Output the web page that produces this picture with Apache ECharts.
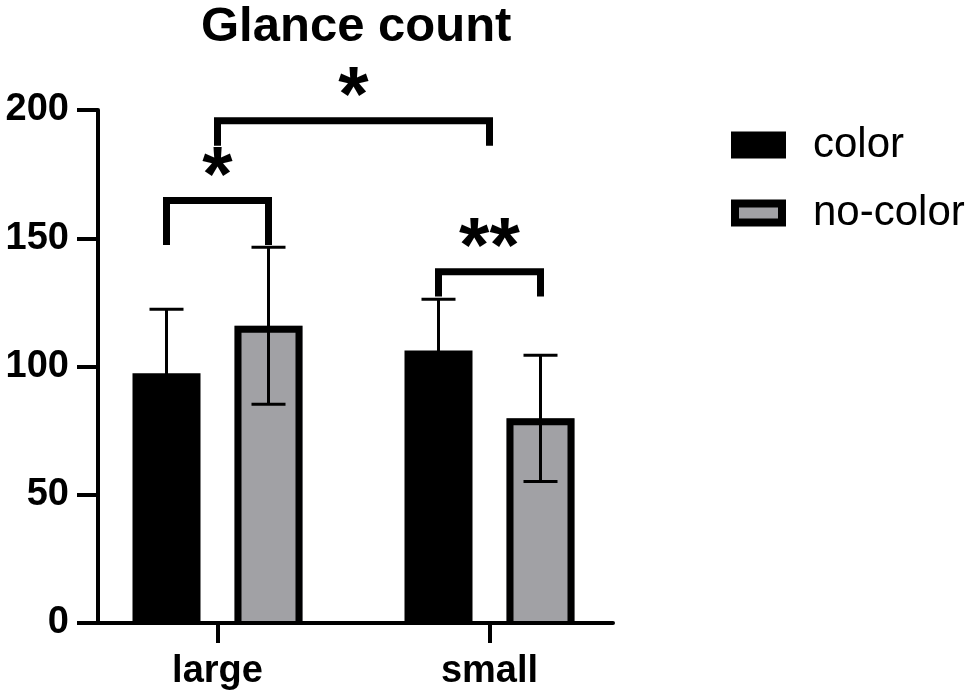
<!DOCTYPE html>
<html>
<head>
<meta charset="utf-8">
<script src="https://cdn.jsdelivr.net/npm/echarts@6/dist/echarts.min.js"></script>
<style>
  html, body { margin: 0; padding: 0; background: #fff; }
  #chart { width: 975px; height: 695px; }
</style>
</head>
<body>
<div id="chart"></div>
<script>
// ---------------- data ----------------
const categories = ['large', 'small'];
const catPos = [1, 2];
const seriesNames = ['color', 'no-color'];
const colorMean = [97.4, 106.2];
const colorErr = [24.9, 20.0];
const noColorMean = [115.9, 79.8];
const noColorErr = [30.6, 24.6];
const yTicks = [0, 50, 100, 150, 200];

// significance annotations: [categoryIndex, slot] (slot -1 = color bar, +1 = no-color bar, 0 = category centre)
const sigFrom = [[0, -1], [0, 0], [1, -1]];
const sigTo = [[0, 1], [1, 0], [1, 1]];
const sigTop = [164.7, 195.8, 136.9];
const sigLegEnd = [147.4, 186.1, 127.3];
const sigLabels = ['*', '*', '**'];

// ---------------- layout/styling constants ----------------
const BAR_OFFSET = 0.1875;   // bar centre offset from category centre (category units)
const BAR_WIDTH = 0.25;      // bar width (category units)
const GREY = '#a1a1a5';
const FONT = '"Liberation Sans", Arial, Helvetica, sans-serif';
const STAR_SPACING = 30.5;

function barSeries(name, means, errs, slot, hollow) {
  return {
    name: name,
    type: 'custom',
    itemStyle: hollow ? { color: GREY, borderColor: '#000', borderWidth: 8 } : { color: '#000' },
    data: categories.map((c, i) => [catPos[i], means[i], errs[i]]),
    renderItem: function (params, api) {
      const pos = api.value(0), v = api.value(1), e = api.value(2);
      const unit = api.size([1, 0])[0];
      const base = api.coord([pos, 0]);
      const cx = base[0] + slot * BAR_OFFSET * unit;
      const y0 = base[1];
      const yTop = api.coord([pos, v])[1];
      const w = BAR_WIDTH * unit;
      const x0 = cx - w / 2, x1 = cx + w / 2;
      const eTop = api.coord([pos, v + e])[1];
      const eBot = api.coord([pos, v - e])[1];
      const children = [];
      if (hollow) {
        children.push({ type: 'rect', shape: { x: x0, y: yTop, width: w, height: y0 - 2 - yTop }, style: { fill: GREY } });
        children.push({ type: 'polyline', shape: { points: [[x0 + 3.5, y0], [x0 + 3.5, yTop + 3.5], [x1 - 3.5, yTop + 3.5], [x1 - 3.5, y0]] },
          style: { stroke: '#000', lineWidth: 7, fill: null, lineJoin: 'miter' } });
      } else {
        children.push({ type: 'rect', shape: { x: x0, y: yTop, width: w, height: y0 - yTop }, style: { fill: '#000' } });
      }
      const cap = 17;
      children.push({ type: 'line', shape: { x1: cx, y1: eTop, x2: cx, y2: eBot }, style: { stroke: '#000', lineWidth: 3 } });
      children.push({ type: 'line', shape: { x1: cx - cap, y1: eTop, x2: cx + cap, y2: eTop }, style: { stroke: '#000', lineWidth: 3 } });
      children.push({ type: 'line', shape: { x1: cx - cap, y1: eBot, x2: cx + cap, y2: eBot }, style: { stroke: '#000', lineWidth: 3 } });
      return { type: 'group', children: children };
    }
  };
}

const sigData = sigLabels.map((l, i) => [
  catPos[sigFrom[i][0]], sigFrom[i][1], catPos[sigTo[i][0]], sigTo[i][1], sigTop[i], sigLegEnd[i], i
]);

const option = {
  animation: false,
  backgroundColor: '#fff',
  title: {
    text: 'Glance count',
    left: 201, top: 3, padding: 0,
    textStyle: { fontFamily: FONT, fontSize: 49, fontWeight: 'bold', color: '#000' }
  },
  legend: {
    orient: 'vertical',
    left: 731, top: 124, padding: 0,
    itemWidth: 47, itemHeight: 19, itemGap: 26,
    icon: 'rect',
    selectedMode: false,
    textStyle: { fontFamily: FONT, fontSize: 42, color: '#000', padding: [0, 0, 0, 26] },
    data: [
      { name: 'color', itemStyle: { color: '#000', borderColor: '#000', borderWidth: 8 } },
      { name: 'no-color', itemStyle: { color: GREY, borderColor: '#000', borderWidth: 8 } }
    ]
  },
  grid: { left: 98, right: 362, top: 110, bottom: 72, containLabel: false },
  xAxis: {
    type: 'value',
    min: 1 - 119.5 / 272,
    max: 2 + 123.5 / 272,
    splitLine: { show: false },
    axisLine: { show: true, lineStyle: { color: '#000', width: 4 } },
    axisTick: { show: true, customValues: catPos, length: 20, inside: false, lineStyle: { color: '#000', width: 4 } },
    axisLabel: {
      show: true, customValues: catPos, margin: 30,
      fontFamily: FONT, fontSize: 38, fontWeight: 'bold', color: '#000',
      formatter: function (v) { const i = catPos.indexOf(v); return i >= 0 ? categories[i] : ''; }
    }
  },
  yAxis: {
    type: 'value',
    min: yTicks[0], max: yTicks[yTicks.length - 1], interval: 50,
    splitLine: { show: false },
    axisLine: { show: true, lineStyle: { color: '#000', width: 4 } },
    axisTick: { show: true, length: 21, inside: false, lineStyle: { color: '#000', width: 4 } },
    axisLabel: { margin: 29, fontFamily: FONT, fontSize: 38, fontWeight: 'bold', color: '#000' }
  },
  series: [
    barSeries(seriesNames[0], colorMean, colorErr, -1, false),
    barSeries(seriesNames[1], noColorMean, noColorErr, 1, true),
    {
      name: 'significance',
      type: 'custom',
      data: sigData,
      renderItem: function (params, api) {
        const unit = api.size([1, 0])[0];
        const xa = api.coord([api.value(0), 0])[0] + api.value(1) * BAR_OFFSET * unit;
        const xb = api.coord([api.value(2), 0])[0] + api.value(3) * BAR_OFFSET * unit;
        const yt = api.coord([api.value(0), api.value(4)])[1];
        const yl = api.coord([api.value(0), api.value(5)])[1];
        const label = sigLabels[api.value(6)];
        const children = [
          { type: 'polyline', shape: { points: [[xa, yl], [xa, yt], [xb, yt], [xb, yl]] },
            style: { stroke: '#000', lineWidth: 7, fill: null, lineJoin: 'miter' } }
        ];
        const chars = label.split('');
        chars.forEach(function (ch, k) {
          children.push({ type: 'text', style: {
            text: ch, x: (xa + xb) / 2 + (k - (chars.length - 1) / 2) * STAR_SPACING, y: yt - 21,
            align: 'center', verticalAlign: 'middle', fill: '#000',
            font: 'bold 78px ' + FONT } });
        });
        return { type: 'group', children: children };
      }
    }
  ]
};

const chart = echarts.init(document.getElementById('chart'), null, { renderer: 'canvas' });
chart.setOption(option);
</script>
</body>
</html>
